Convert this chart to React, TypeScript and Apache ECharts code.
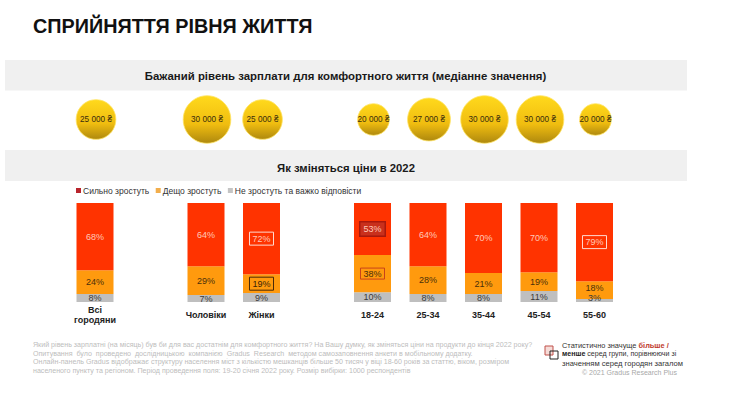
import React, { useEffect, useRef } from "react";
import * as echarts from "echarts";

const categories = ["Всі\nгородяни", "", "Чоловіки", "Жінки", " ", "18-24", "25-34", "35-44", "45-54", "55-60", "  "];
const wages = [25000, null, 30000, 25000, null, 20000, 27000, 30000, 30000, 20000, null];
const strong = [68, null, 64, 72, null, 53, 64, 70, 70, 79, null];
const some = [24, null, 29, 19, null, 38, 28, 21, 19, 18, null];
const none = [8, null, 7, 9, null, 10, 8, 8, 11, 3, null];

const seriesNames = ["Сильно зростуть", "Дещо зростуть", "Не зростуть та важко відповісти"];
const title = "СПРИЙНЯТТЯ РІВНЯ ЖИТТЯ";
const band1 = "Бажаний рівень зарплати для комфортного життя (медіанне значення)";
const band2 = "Як зміняться ціни в 2022";
const footer = [
  "Який рівень зарплатні (на місяць) був би для вас достатнім для комфортного життя? На Вашу думку, як зміняться ціни на продукти до кінця 2022 року?",
  "Опитування  було  проведено  дослідницькою  компанією  Gradus  Research  методом самозаповнення анкети в мобільному додатку.",
  "Онлайн-панель Gradus відображає структуру населення міст з кількістю мешканців більше 50 тисяч у віці 18-60 років за статтю, віком, розміром",
  "населеного пункту та регіоном. Період проведення поля: 19-20 січня 2022 року. Розмір вибірки: 1000 респондентів",
];
const copyright = "© 2021 Gradus Research Plus";

const FONT = '"Liberation Sans", Arial, sans-serif';
const boxWhite = { borderColor: "#ffd9cf", borderWidth: 1, padding: [2, 3] };
const boxDark = { borderColor: "#4a2a08", borderWidth: 1, padding: [2, 3], color: "#3a2408" };
const boxRed = { borderColor: "#a8180c", borderWidth: 1.5, backgroundColor: "#c9301c", padding: [2, 3] };
const boxOrange = { borderColor: "#c8431a", borderWidth: 1, padding: [1, 3] };

const strongBoxes: Record<number, object> = { 3: boxWhite, 5: boxRed, 9: boxWhite };
const someExtras: Record<number, object> = { 3: boxDark, 5: boxOrange, 9: { offset: [0, -2] } };
const noneExtras: Record<number, object> = { 9: { offset: [0, -2.5] } };

const total = (i: number) => (strong[i] ?? 0) + (some[i] ?? 0) + (none[i] ?? 0);

function barData(values: (number | null)[], extras: Record<number, object>) {
  return values.map((v, i) =>
    v === null ? null : { value: (v / total(i)) * 100, raw: v, label: extras[i] ?? {} }
  );
}

function barSeries(name: string, values: (number | null)[], color: string, labelColor: string, extras: Record<number, object>) {
  return {
    name,
    type: "bar",
    stack: "prices",
    barWidth: 37,
    xAxisIndex: 0,
    yAxisIndex: 0,
    itemStyle: { color },
    label: {
      show: true,
      position: "inside",
      color: labelColor,
      fontFamily: FONT,
      fontSize: 9,
      formatter: (p: any) => `${p.data.raw}%`,
    },
    data: barData(values, extras),
  };
}

export default function App() {
  const ref = useRef<HTMLDivElement>(null);
  useEffect(() => {
    document.body.style.margin = "0";
    const chart = echarts.init(ref.current!, undefined, { renderer: "svg" });
    const footerText = footer.map((t, i) => ({
      type: "text",
      x: 33,
      y: 345 + i * 8.6,
      style: { text: t, font: `7.1px ${FONT}`, fill: "#bdbdbd", textVerticalAlign: "middle" },
    }));
    chart.setOption({
      animation: false,
      backgroundColor: "#ffffff",
      textStyle: { fontFamily: FONT },
      legend: {
        left: 76,
        top: 186,
        padding: 0,
        itemWidth: 5,
        itemHeight: 5,
        itemGap: 6.5,
        icon: "rect",
        textStyle: { fontFamily: FONT, fontSize: 8.5, color: "#333333", padding: [0, 0, 0, -3] },
        data: [
          { name: seriesNames[0], itemStyle: { color: "#b8242c" } },
          { name: seriesNames[1], itemStyle: { color: "#f2ae4c" } },
          { name: seriesNames[2], itemStyle: { color: "#c4c4c4" } },
        ],
      },
      grid: [
        { left: 67.25, width: 610.5, top: 203, height: 99 },
        { left: 68.25, width: 610.5, top: 92, height: 55 },
      ],
      xAxis: [
        {
          type: "category",
          gridIndex: 0,
          data: categories,
          axisLine: { show: false },
          axisTick: { show: false },
          axisLabel: {
            interval: 0,
            margin: 13,
            verticalAlign: "middle",
            color: "#222222",
            fontFamily: FONT,
            fontSize: 9,
            fontWeight: "bold",
            lineHeight: 10.5,
          },
        },
        { type: "category", gridIndex: 1, data: categories, show: false },
      ],
      yAxis: [
        { type: "value", gridIndex: 0, min: 0, max: 100, show: false },
        { type: "value", gridIndex: 1, min: 0, max: 1, show: false },
      ],
      series: [
        barSeries(seriesNames[2], none, "#bfbfbf", "#3a3a3a", noneExtras),
        barSeries(seriesNames[1], some, "#ff9a0e", "#4a2f0a", someExtras),
        barSeries(seriesNames[0], strong, "#ff3300", "#ffc8b8", strongBoxes),
        {
          name: "Бажаний рівень",
          type: "scatter",
          xAxisIndex: 1,
          yAxisIndex: 1,
          data: wages.map((w, i) => (w === null ? null : [i, 0.5, w])).filter(Boolean),
          symbolSize: (v: number[]) => v[2] / 630,
          itemStyle: {
            color: new echarts.graphic.LinearGradient(0, 0, 0, 1, [
              { offset: 0, color: "#ffd91c" },
              { offset: 0.6, color: "#f0bd10" },
              { offset: 1, color: "#ae880e" },
            ]),
            borderColor: "#ffe566",
            borderWidth: 0.8,
            opacity: 1,
          },
          label: {
            show: true,
            position: "inside",
            color: "#3a2c0c",
            fontFamily: FONT,
            fontSize: 8.2,
            formatter: (p: any) => `${String(p.value[2]).replace(/(\d{3})$/, " $1")} ₴`,
          },
        },
      ],
      graphic: [
        { type: "rect", shape: { x: 5, y: 60, width: 682, height: 30.5 }, style: { fill: "#f0f0f0" } },
        { type: "rect", shape: { x: 5, y: 150, width: 682, height: 31 }, style: { fill: "#f0f0f0" } },
        {
          type: "text", x: 33, y: 26,
          style: { text: title, font: `bold 19.8px ${FONT}`, fill: "#111111", textVerticalAlign: "middle" },
        },
        {
          type: "text", x: 345.5, y: 75.5,
          style: { text: band1, font: `bold 11.4px ${FONT}`, fill: "#1a1a1a", textAlign: "center", textVerticalAlign: "middle" },
        },
        {
          type: "text", x: 346, y: 168,
          style: { text: band2, font: `bold 11.3px ${FONT}`, fill: "#1a1a1a", textAlign: "center", textVerticalAlign: "middle" },
        },
        ...footerText,
        { type: "rect", shape: { x: 545, y: 346, width: 8, height: 9 }, style: { fill: "#f6dcd8", stroke: "#c0504a", lineWidth: 1 } },
        { type: "rect", shape: { x: 550, y: 351, width: 8, height: 8 }, style: { fill: "none", stroke: "#222222", lineWidth: 1 } },
        {
          type: "text", x: 562, y: 345,
          style: {
            text: "{n|Статистично значуще }{r|більше /}",
            textVerticalAlign: "middle",
            rich: {
              n: { font: `7.4px ${FONT}`, fill: "#333333" },
              r: { font: `bold 7.4px ${FONT}`, fill: "#c0392b" },
            },
          },
        },
        {
          type: "text", x: 562, y: 354,
          style: {
            text: "{b|менше }{n|серед групи, порівнюючи зі}",
            textVerticalAlign: "middle",
            rich: {
              n: { font: `7.1px ${FONT}`, fill: "#333333" },
              b: { font: `bold 7.1px ${FONT}`, fill: "#222222" },
            },
          },
        },
        {
          type: "text", x: 562, y: 363,
          style: { text: "значенням серед городян загалом", font: `7.6px ${FONT}`, fill: "#333333", textVerticalAlign: "middle" },
        },
        {
          type: "text", x: 677, y: 372,
          style: { text: copyright, font: `7px ${FONT}`, fill: "#a8a8a8", textAlign: "right", textVerticalAlign: "middle" },
        },
      ],
    });
    return () => chart.dispose();
  }, []);
  return <div ref={ref} style={{ width: 740, height: 395 }} />;
}
